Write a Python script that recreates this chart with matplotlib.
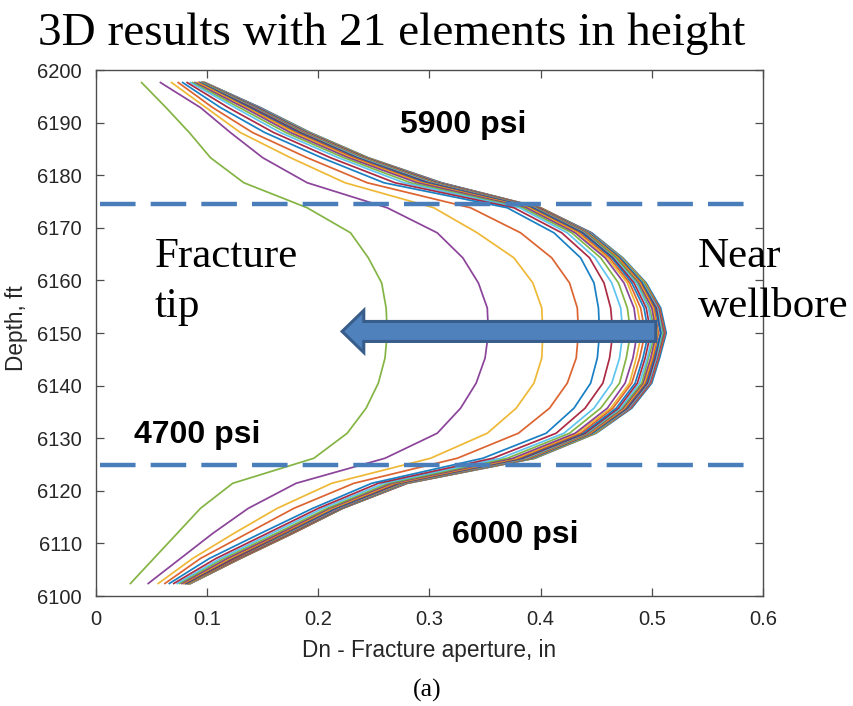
import numpy as np
import matplotlib
matplotlib.use("Agg")
import matplotlib.pyplot as plt
from matplotlib.patches import FancyArrow

# Element centre depths (21 elements in height), ft
depth = [6102.38, 6107.14, 6111.90, 6116.67, 6121.43, 6126.19, 6130.95,
         6135.71, 6140.48, 6145.24, 6150.00, 6154.76, 6159.52, 6164.29,
         6169.05, 6173.81, 6178.57, 6183.33, 6188.10, 6192.86, 6197.62]

# Aperture profiles Dn (in) along the fracture, from fracture tip (first row)
# towards the wellbore (last row); one value per depth above.
aperture = [
    [0.031, 0.052, 0.073, 0.094, 0.123, 0.196, 0.226, 0.243, 0.254, 0.260, 0.262, 0.261, 0.257, 0.245, 0.229, 0.190, 0.133, 0.103, 0.084, 0.063, 0.041],
    [0.047, 0.076, 0.105, 0.137, 0.180, 0.260, 0.307, 0.328, 0.342, 0.350, 0.353, 0.352, 0.344, 0.330, 0.307, 0.262, 0.190, 0.150, 0.121, 0.094, 0.058],
    [0.056, 0.087, 0.124, 0.163, 0.212, 0.301, 0.352, 0.378, 0.394, 0.401, 0.402, 0.401, 0.393, 0.376, 0.343, 0.304, 0.224, 0.175, 0.130, 0.099, 0.068],
    [0.062, 0.094, 0.136, 0.178, 0.232, 0.325, 0.380, 0.408, 0.424, 0.432, 0.434, 0.433, 0.426, 0.410, 0.382, 0.337, 0.244, 0.190, 0.141, 0.105, 0.074],
    [0.066, 0.102, 0.148, 0.195, 0.248, 0.348, 0.405, 0.430, 0.445, 0.451, 0.453, 0.452, 0.448, 0.436, 0.412, 0.370, 0.259, 0.203, 0.152, 0.112, 0.078],
    [0.070, 0.108, 0.154, 0.200, 0.254, 0.357, 0.414, 0.440, 0.456, 0.462, 0.465, 0.463, 0.457, 0.444, 0.419, 0.376, 0.269, 0.211, 0.160, 0.119, 0.082],
    [0.073, 0.112, 0.158, 0.204, 0.259, 0.364, 0.421, 0.448, 0.464, 0.471, 0.474, 0.472, 0.464, 0.449, 0.424, 0.381, 0.277, 0.218, 0.166, 0.125, 0.085],
    [0.075, 0.115, 0.162, 0.208, 0.263, 0.370, 0.426, 0.454, 0.471, 0.477, 0.481, 0.478, 0.470, 0.454, 0.428, 0.384, 0.283, 0.223, 0.171, 0.129, 0.087],
    [0.077, 0.118, 0.165, 0.210, 0.266, 0.375, 0.431, 0.460, 0.476, 0.483, 0.487, 0.484, 0.475, 0.458, 0.431, 0.387, 0.289, 0.227, 0.175, 0.133, 0.089],
    [0.078, 0.120, 0.166, 0.212, 0.268, 0.378, 0.433, 0.463, 0.480, 0.486, 0.491, 0.487, 0.478, 0.460, 0.433, 0.389, 0.292, 0.229, 0.178, 0.135, 0.091],
    [0.079, 0.121, 0.168, 0.213, 0.270, 0.380, 0.436, 0.465, 0.482, 0.489, 0.494, 0.490, 0.480, 0.462, 0.435, 0.390, 0.294, 0.232, 0.180, 0.136, 0.092],
    [0.080, 0.122, 0.169, 0.215, 0.271, 0.382, 0.438, 0.468, 0.485, 0.492, 0.497, 0.493, 0.482, 0.464, 0.437, 0.392, 0.297, 0.234, 0.182, 0.138, 0.093],
    [0.081, 0.124, 0.170, 0.216, 0.273, 0.384, 0.440, 0.470, 0.487, 0.494, 0.499, 0.495, 0.484, 0.465, 0.438, 0.393, 0.299, 0.235, 0.184, 0.140, 0.093],
    [0.081, 0.124, 0.171, 0.217, 0.274, 0.386, 0.441, 0.472, 0.489, 0.496, 0.501, 0.497, 0.486, 0.466, 0.439, 0.394, 0.301, 0.237, 0.185, 0.141, 0.094],
    [0.082, 0.125, 0.172, 0.217, 0.275, 0.387, 0.442, 0.473, 0.491, 0.497, 0.503, 0.498, 0.487, 0.468, 0.440, 0.395, 0.302, 0.238, 0.186, 0.142, 0.095],
    [0.082, 0.126, 0.173, 0.218, 0.275, 0.388, 0.443, 0.474, 0.492, 0.499, 0.504, 0.500, 0.488, 0.468, 0.441, 0.396, 0.303, 0.239, 0.187, 0.143, 0.095],
    [0.083, 0.126, 0.173, 0.218, 0.276, 0.389, 0.444, 0.475, 0.493, 0.500, 0.505, 0.501, 0.489, 0.469, 0.442, 0.396, 0.304, 0.240, 0.188, 0.143, 0.095],
    [0.083, 0.127, 0.174, 0.219, 0.276, 0.390, 0.445, 0.476, 0.494, 0.501, 0.506, 0.502, 0.490, 0.470, 0.442, 0.397, 0.305, 0.240, 0.188, 0.144, 0.096],
    [0.083, 0.127, 0.174, 0.220, 0.277, 0.391, 0.446, 0.477, 0.495, 0.502, 0.508, 0.503, 0.491, 0.471, 0.443, 0.397, 0.306, 0.241, 0.189, 0.145, 0.096],
    [0.083, 0.128, 0.175, 0.220, 0.277, 0.391, 0.446, 0.478, 0.496, 0.503, 0.508, 0.504, 0.491, 0.471, 0.443, 0.398, 0.307, 0.242, 0.190, 0.145, 0.096],
    [0.084, 0.128, 0.175, 0.220, 0.278, 0.392, 0.447, 0.479, 0.497, 0.504, 0.509, 0.505, 0.492, 0.472, 0.444, 0.398, 0.308, 0.242, 0.191, 0.146, 0.097],
    [0.084, 0.129, 0.176, 0.221, 0.278, 0.393, 0.448, 0.479, 0.497, 0.504, 0.510, 0.505, 0.493, 0.472, 0.444, 0.399, 0.308, 0.243, 0.191, 0.146, 0.097],
    [0.084, 0.129, 0.176, 0.221, 0.279, 0.393, 0.448, 0.480, 0.498, 0.505, 0.511, 0.506, 0.493, 0.472, 0.445, 0.399, 0.309, 0.243, 0.191, 0.147, 0.097],
    [0.084, 0.129, 0.176, 0.221, 0.279, 0.394, 0.449, 0.480, 0.498, 0.505, 0.511, 0.506, 0.494, 0.473, 0.445, 0.399, 0.309, 0.244, 0.192, 0.147, 0.097],
    [0.085, 0.130, 0.177, 0.222, 0.280, 0.394, 0.449, 0.481, 0.499, 0.506, 0.512, 0.507, 0.494, 0.473, 0.445, 0.400, 0.310, 0.244, 0.192, 0.147, 0.098],
    [0.085, 0.130, 0.177, 0.222, 0.280, 0.395, 0.450, 0.482, 0.500, 0.507, 0.513, 0.508, 0.495, 0.474, 0.446, 0.400, 0.311, 0.245, 0.193, 0.148, 0.098],
]

# Layer boundaries (ft) and layer stresses
boundaries = [6174.5, 6125.0]
stress_labels = ["5900 psi", "4700 psi", "6000 psi"]

x_ticks = [0, 0.1, 0.2, 0.3, 0.4, 0.5, 0.6]
x_ticklabels = ["0", "0.1", "0.2", "0.3", "0.4", "0.5", "0.6"]
y_ticks = list(range(6100, 6201, 10))

matlab_colors = ["#0072BD", "#D95319", "#EDB120", "#7E2F8E",
                 "#77AC30", "#4DBEEE", "#A2142F"]

fig = plt.figure(figsize=(8.54, 7.06), dpi=100)
ax = fig.add_axes([0.1124, 0.1558, 0.7810, 0.7450])

# near-wellbore profile drawn first, tip profile last
for i, prof in enumerate(aperture[::-1]):
    ax.plot(prof, depth, color=matlab_colors[i % 7], lw=1.25, alpha=0.9,
            zorder=2)

ax.set_xlim(0, 0.6)
ax.set_ylim(6100, 6200)
ax.set_xticks(x_ticks)
ax.set_xticklabels(x_ticklabels)
ax.set_yticks(y_ticks)

axis_col = "#4d4d4d"
for s in ax.spines.values():
    s.set_color(axis_col)
    s.set_linewidth(1.0)
ax.tick_params(direction="in", length=6, width=0.9, color=axis_col,
               top=True, right=True, labelsize=14.5, labelcolor="#262626")
ax.tick_params(axis="x", pad=10)
ax.tick_params(axis="y", pad=10)
for lab in ax.get_xticklabels() + ax.get_yticklabels():
    lab.set_family("Liberation Sans")

ax.set_xlabel("Dn - Fracture aperture, in", fontsize=16.3, color="#262626",
              family="Liberation Sans")
ax.set_ylabel("Depth, ft", fontsize=16.3, color="#262626", family="Liberation Sans")
ax.xaxis.set_label_coords(0.5, -0.082)
ax.yaxis.set_label_coords(-0.102, 0.51)

# layer boundaries
dash_col = "#4A7EBB"
for b in boundaries:
    ax.plot([0.004, 0.593], [b, b], color=dash_col, lw=3.2,
            dashes=(8.0, 3.4), solid_capstyle="butt", zorder=3)

# direction arrow from wellbore to fracture tip
arrow = FancyArrow(0.5036, 6150.3, -0.2822, 0.0, width=3.8, head_width=8.0,
                   head_length=0.0195, length_includes_head=True,
                   facecolor="#4F81BD", edgecolor="#385D8A", lw=2.2, zorder=4)
ax.add_patch(arrow)

# stress annotations
bold = dict(fontsize=23, fontweight="bold", family="Liberation Sans",
            color="black", ha="center", va="center", zorder=5)
ax.text(0.330, 6189.5, stress_labels[0], **bold)
ax.text(0.091, 6130.6, stress_labels[1], **bold)
ax.text(0.377, 6111.6, stress_labels[2], **bold)

serif = dict(fontsize=31, family="Liberation Serif", color="black",
             ha="left", va="baseline", zorder=5)
ax.text(0.053, 6162.5, "Fracture", **serif)
ax.text(0.053, 6153.0, "tip", **serif)
ax.text(0.5414, 6162.5, "Near", clip_on=False, **serif)
ax.text(0.5414, 6153.0, "wellbore", clip_on=False, **serif)

fig.text(0.459, 0.936, "3D results with 21 elements in height", fontsize=34,
         family="Liberation Serif", ha="center", va="baseline")
fig.text(0.5, 0.0227, "(a)", fontsize=18.5, family="Liberation Serif",
         ha="center", va="center")

fig.savefig("out.png", dpi=100)
